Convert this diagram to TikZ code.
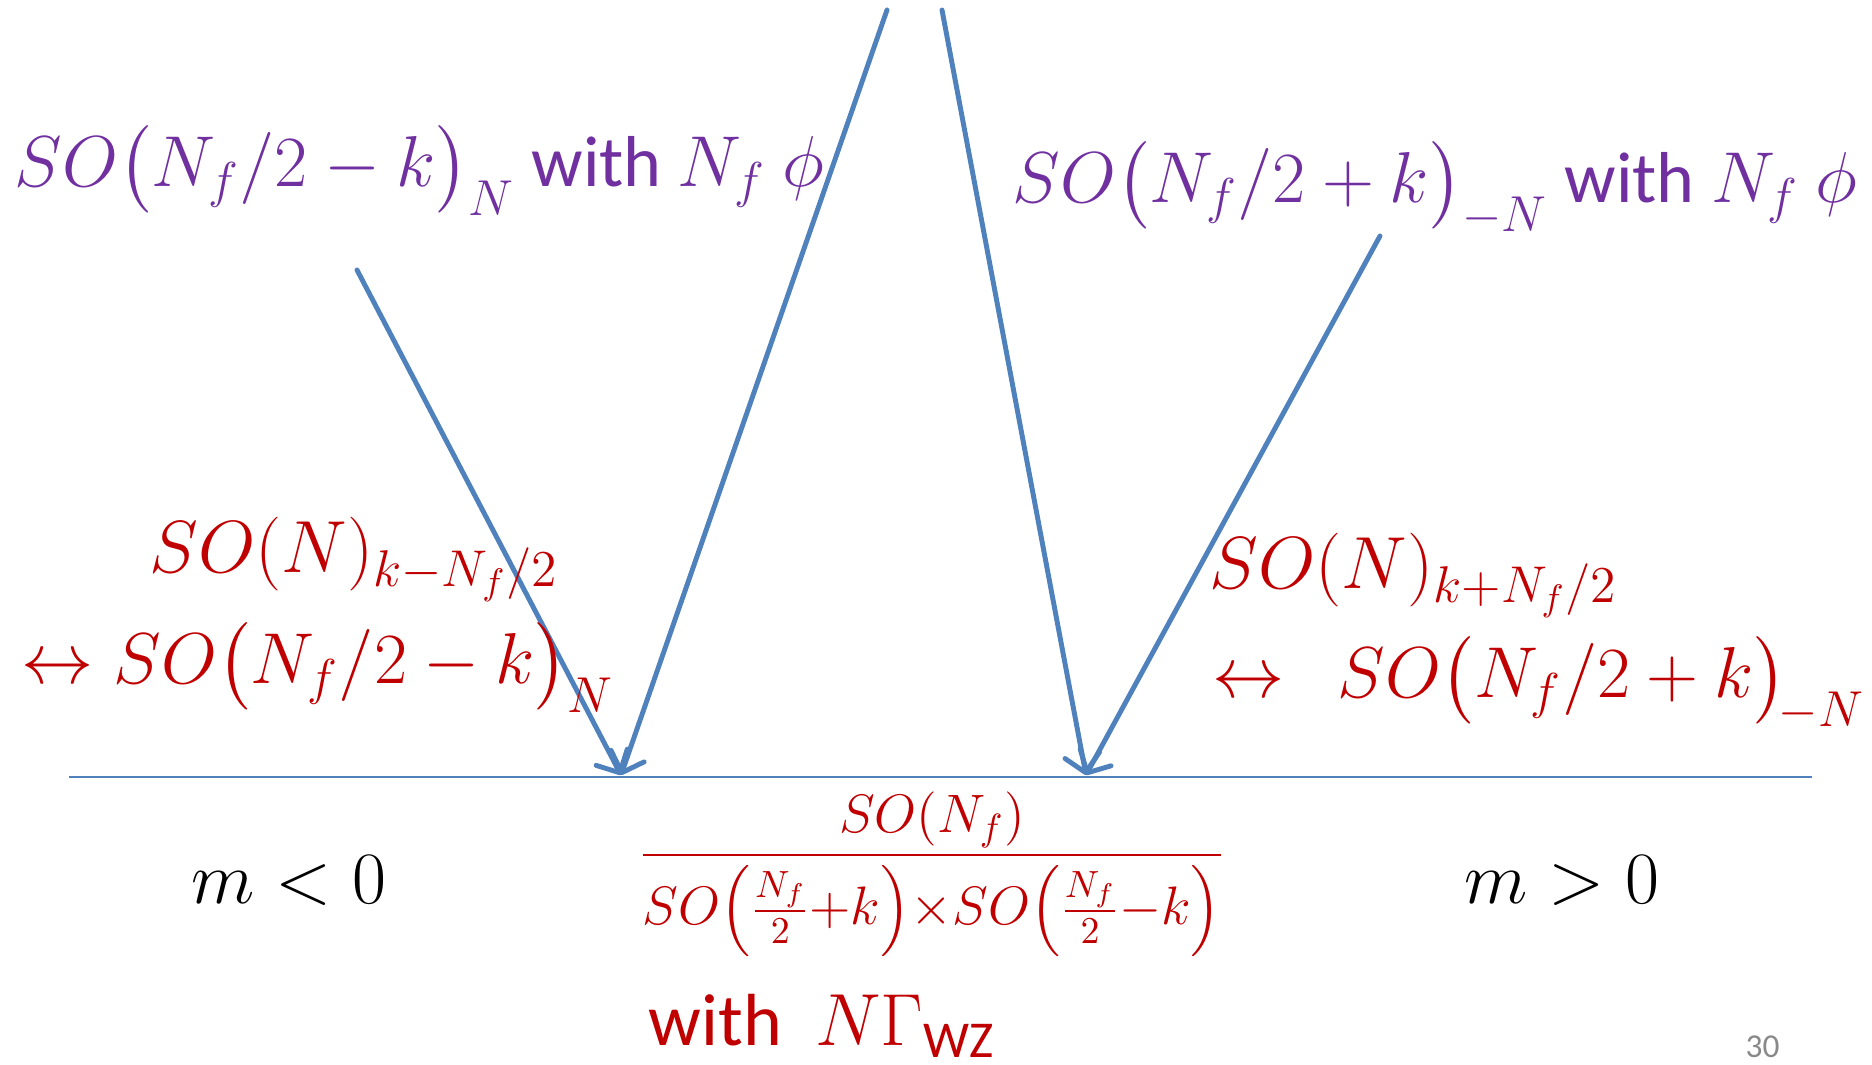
\RequirePackage{fix-cm}
\documentclass[tikz,border=0pt]{standalone}
\usepackage{amsmath}
\usepackage[no-math]{fontspec}
\setmainfont{Carlito}
\usetikzlibrary{arrows.meta}
\definecolor{ppl}{HTML}{7030A0}
\definecolor{rd}{HTML}{C00000}
\definecolor{bl}{HTML}{4F81BD}
\definecolor{gr}{HTML}{898989}
\begin{document}
\begin{tikzpicture}[x=0.01cm,y=-0.01cm,
  lbl/.style={inner sep=0pt, anchor=base west, font=\fontsize{21}{25}\selectfont},
  lbls/.style={inner sep=0pt, anchor=base west, font=\fontsize{20.5}{24}\selectfont},
  arr/.style={draw=bl, line width=1.4pt, line cap=round, -{Straight Barb[length=5pt,width=10pt,round]}},
  axisline/.style={draw=bl, line width=0.6pt}]
\useasboundingbox (0,0) rectangle (1872,1065);
% axis
\coordinate (hl) at (69,777);
\coordinate (hr) at (1812,777);
\draw[axisline] (hl) -- (hr);
% arrow ends
\coordinate (tipL) at (621,775);
\coordinate (tipR) at (1086,775);
\coordinate (s1) at (357,270);
\coordinate (s2) at (887,10);
\coordinate (s3) at (942,10);
\coordinate (s4) at (1380,236);
\draw[arr] (s1) -- (tipL);
\draw[arr] (s2) -- (tipL);
\draw[arr] (s3) -- (tipR);
\draw[arr] (s4) -- (tipR);
% purple labels
\node[lbls, text=ppl] (pl) at (14,187) {$SO\bigl(N_f/2-k\bigr)_N$ with $N_f\ \phi$};
\node[lbls, text=ppl] (pr) at (1012,203) {$SO\bigl(N_f/2+k\bigr)_{-N}$ with $N_f\ \phi$};
% red labels
\node[lbl, text=rd] (rl1) at (149,573) {$SO(N)_{k-N_f/2}$};
\node[lbls, text=rd] (rl2) at (21,684) {$\leftrightarrow SO\bigl(N_f/2-k\bigr)_N$};
\node[lbl, text=rd] (rr1) at (1209,589) {$SO(N)_{k+N_f/2}$};
\node[lbls, text=rd] (rr2) at (1212,698) {$\leftrightarrow\ \ SO\bigl(N_f/2+k\bigr)_{\!-N}$};
% regions
\node[lbl] (mneg) at (191,904) {$m<0$};
\node[lbl] (mpos) at (1464,904) {$m>0$};
% coset
\node[inner sep=0pt, anchor=base, text=rd, font=\fontsize{15.4}{19}\selectfont] (coset) at (932,869)
  {$\dfrac{SO(N_f)}{SO\Bigl(\frac{N_f}{2}{+}k\Bigr){\times}SO\Bigl(\frac{N_f}{2}{-}k\Bigr)}$};
\node[lbl, text=rd] (wz) at (648,1046) {with\ \ $N\Gamma_{\text{WZ}}$};
% page number
\node[inner sep=0pt, anchor=base west, text=gr, font=\fontsize{9.5}{11}\selectfont] (pg) at (1745,1058) {30};
\end{tikzpicture}
\end{document}
